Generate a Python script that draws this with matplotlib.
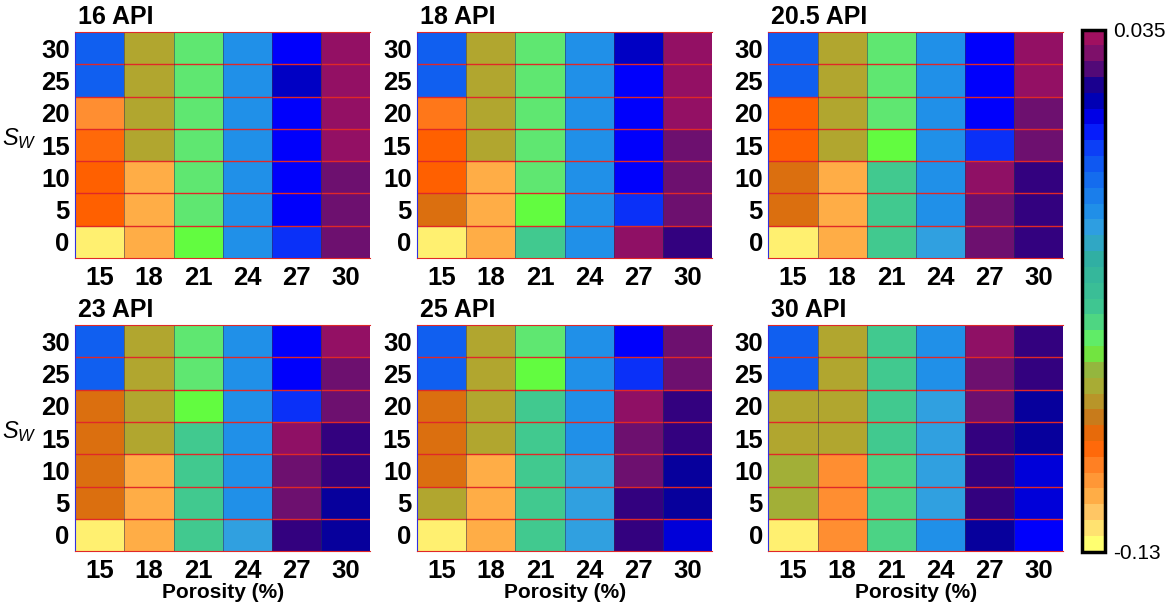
import numpy as np
import matplotlib
matplotlib.use("Agg")
import matplotlib.pyplot as plt
from matplotlib.colors import LinearSegmentedColormap, Normalize

plt.rcParams['font.family'] = ['Liberation Sans', 'DejaVu Sans']
plt.rcParams['mathtext.fontset'] = 'custom'
plt.rcParams['mathtext.it'] = 'Liberation Sans:italic'
plt.rcParams['mathtext.rm'] = 'Liberation Sans'

# Axis categories
porosity = [15, 18, 21, 24, 27, 30]
sw = [0, 5, 10, 15, 20, 25, 30]
titles = ["16 API", "18 API", "20.5 API", "23 API", "25 API", "30 API"]

# Values per panel, rows = Sw 0..30 (bottom to top), cols = porosity 15..30
api16 = [[-0.127, -0.114, -0.066, -0.022, 0.002, 0.027],
         [-0.097, -0.114, -0.062, -0.022, 0.007, 0.027],
         [-0.097, -0.114, -0.062, -0.022, 0.007, 0.027],
         [-0.099, -0.081, -0.062, -0.022, 0.007, 0.033],
         [-0.107, -0.081, -0.062, -0.022, 0.007, 0.033],
         [-0.008, -0.081, -0.062, -0.022, 0.012, 0.033],
         [-0.008, -0.081, -0.062, -0.022, 0.007, 0.033]]
api18 = [[-0.127, -0.114, -0.054, -0.022, 0.032, 0.022],
         [-0.092, -0.114, -0.066, -0.022, 0.002, 0.027],
         [-0.097, -0.114, -0.062, -0.022, 0.007, 0.027],
         [-0.097, -0.081, -0.062, -0.022, 0.007, 0.027],
         [-0.102, -0.081, -0.062, -0.022, 0.007, 0.033],
         [-0.008, -0.081, -0.062, -0.022, 0.007, 0.033],
         [-0.008, -0.081, -0.062, -0.022, 0.012, 0.033]]
api205 = [[-0.127, -0.114, -0.054, -0.028, 0.027, 0.022],
          [-0.092, -0.114, -0.054, -0.022, 0.027, 0.022],
          [-0.092, -0.114, -0.054, -0.022, 0.032, 0.022],
          [-0.097, -0.081, -0.066, -0.022, 0.002, 0.027],
          [-0.097, -0.081, -0.062, -0.022, 0.007, 0.027],
          [-0.008, -0.081, -0.062, -0.022, 0.007, 0.033],
          [-0.008, -0.081, -0.062, -0.022, 0.007, 0.033]]
api23 = [[-0.127, -0.114, -0.054, -0.028, 0.022, 0.017],
         [-0.092, -0.114, -0.054, -0.022, 0.027, 0.017],
         [-0.092, -0.114, -0.054, -0.022, 0.027, 0.022],
         [-0.092, -0.081, -0.054, -0.022, 0.032, 0.022],
         [-0.092, -0.081, -0.066, -0.022, 0.002, 0.027],
         [-0.008, -0.081, -0.062, -0.022, 0.007, 0.027],
         [-0.008, -0.081, -0.062, -0.022, 0.007, 0.033]]
api25 = [[-0.127, -0.114, -0.054, -0.028, 0.022, 0.010],
         [-0.081, -0.114, -0.054, -0.028, 0.022, 0.017],
         [-0.092, -0.114, -0.054, -0.028, 0.027, 0.017],
         [-0.092, -0.081, -0.054, -0.022, 0.027, 0.022],
         [-0.092, -0.081, -0.054, -0.022, 0.032, 0.022],
         [-0.008, -0.081, -0.066, -0.022, 0.002, 0.027],
         [-0.008, -0.081, -0.062, -0.022, 0.007, 0.027]]
api30 = [[-0.127, -0.107, -0.057, -0.022, 0.017, 0.007],
         [-0.077, -0.107, -0.057, -0.028, 0.022, 0.010],
         [-0.077, -0.107, -0.057, -0.028, 0.022, 0.010],
         [-0.081, -0.081, -0.054, -0.028, 0.022, 0.017],
         [-0.081, -0.081, -0.054, -0.028, 0.027, 0.017],
         [-0.008, -0.081, -0.054, -0.022, 0.027, 0.022],
         [-0.008, -0.081, -0.054, -0.022, 0.032, 0.022]]
panels = [api16, api18, api205, api23, api25, api30]

vmin, vmax = -0.13, 0.035

# Colormap (yellow -> orange -> olive -> green -> blue -> purple)
anchors = [(0.00, "#ffff70"), (0.05, "#ffd070"), (0.10, "#ffa840"),
           (0.14, "#ff8c30"), (0.20, "#ff6000"), (0.23, "#d87010"),
           (0.26, "#c08020"), (0.30, "#b0a830"), (0.35, "#90b840"),
           (0.39, "#60ff40"), (0.41, "#60e870"), (0.46, "#40c890"),
           (0.56, "#30b0a0"), (0.62, "#30a0e0"), (0.655, "#2090e8"),
           (0.74, "#1060f0"), (0.80, "#0a30f8"), (0.83, "#0000ff"),
           (0.86, "#0000c8"), (0.89, "#0000a0"), (0.92, "#300080"),
           (0.95, "#6a1070"), (1.00, "#a01060")]
cmap = LinearSegmentedColormap.from_list("api", anchors, N=256)
norm = Normalize(vmin=vmin, vmax=vmax)

fig = plt.figure(figsize=(11.75, 6.03), dpi=100)

lefts = [0.064, 0.355, 0.654]
bottoms = [0.572, 0.086]
w, h = 0.251, 0.375


def draw_panel(ax, data, title, show_sw, show_xlabel):
    ax.pcolormesh(np.arange(len(porosity) + 1) - 0.5, np.arange(len(sw) + 1) - 0.5,
                  np.array(data), cmap=cmap, norm=norm, shading='flat')
    for yb in np.arange(len(sw) - 1) + 0.5:
        ax.axhline(yb, color="#e02828", lw=1.0)
    for xb in np.arange(len(porosity) - 1) + 0.5:
        ax.axvline(xb, color="#303050", lw=0.6, alpha=0.6)
    ax.set_xlim(-0.5, len(porosity) - 0.5)
    ax.set_ylim(-0.5, len(sw) - 0.5)
    ax.set_xticks(range(len(porosity)))
    ax.set_xticklabels([str(p) for p in porosity], fontsize=18.5, fontweight='bold')
    ax.set_yticks(range(len(sw)))
    ax.set_yticklabels([str(s) for s in sw], fontsize=18.5, fontweight='bold')
    ax.tick_params(length=0, pad=4)
    ax.tick_params(axis='x', pad=6)
    ax.spines['top'].set_color("#e02828")
    ax.spines['bottom'].set_color("#e02828")
    ax.spines['left'].set_color("#3030e0")
    ax.spines['right'].set_visible(False)
    ax.text(0.01, 1.015, title, transform=ax.transAxes, ha='left', va='bottom',
            fontsize=18, fontweight='bold')
    if show_sw:
        ax.text(-0.19, 0.53, r'$\mathit{S_W}$', transform=ax.transAxes,
                ha='center', va='center', fontsize=17)
    if show_xlabel:
        ax.set_xlabel("Porosity (%)", fontsize=15, fontweight='bold', labelpad=0)


for i, data in enumerate(panels):
    r, c = divmod(i, 3)
    ax = fig.add_axes([lefts[c], bottoms[r], w, h])
    draw_panel(ax, data, titles[i], c == 0, r == 1)

# Colorbar with labels only at the ends, banded like the original
cax = fig.add_axes([0.921, 0.085, 0.0196, 0.866])
sm = plt.cm.ScalarMappable(cmap=cmap.resampled(33), norm=norm)
cb = fig.colorbar(sm, cax=cax)
cb.set_ticks([vmin, vmax])
cb.set_ticklabels(["-0.13", "0.035"])
cb.ax.tick_params(length=0, labelsize=15, pad=6)
cb.outline.set_linewidth(2.5)
cb.outline.set_edgecolor("black")

plt.savefig("out.png", dpi=100)
